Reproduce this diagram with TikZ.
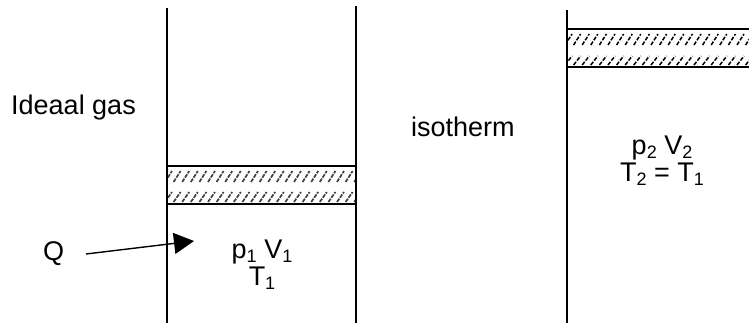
\documentclass[tikz,border=0pt]{standalone}
\usepackage{fontspec}
\setmainfont{Liberation Sans}
\usetikzlibrary{arrows.meta}
\newcommand{\lowidx}[1]{\smash{\raisebox{-4pt}{\fontsize{18}{18}\selectfont #1}}}
\tikzset{
  wall/.style={draw=black,line width=1.4pt},
  lbl/.style={font=\fontsize{27}{27}\selectfont,inner sep=0pt,align=center,text=black},
  hatchline/.style={draw=black!75,line width=1.7pt,dash pattern=on 4pt off 1.2pt},
  hatchdark/.style={draw=black,line width=1.5pt,dash pattern=on 4pt off 1.6pt},
  heatarrow/.style={draw=black,line width=1.4pt,-{Triangle[length=20pt,width=21pt]}}
}
\begin{document}
\begin{tikzpicture}[x=1pt,y=-1pt]
\useasboundingbox (0,0) rectangle (749,324);
% left cylinder
\draw[wall] (167,8) -- (167,323);
\draw[wall] (356,6) -- (356,323);
\draw[wall] (167,166) -- (356,166);
\draw[wall] (167,204) -- (356,204);
\begin{scope}
\clip (168,170) rectangle (355,203);
\foreach \i in {0,...,22}{
  \draw[hatchline] ({165+8.6*\i},182) -- ({172+8.6*\i},171);
  \draw[hatchline] ({165+8.6*\i},202) -- ({172+8.6*\i},192);
}
\end{scope}
% right cylinder
\draw[wall] (567,10) -- (567,323);
\draw[wall] (567,29) -- (749,29);
\draw[wall] (567,67) -- (749,67);
\begin{scope}
\clip (568,31) rectangle (749,66);
\foreach \i in {0,...,22}{
  \draw[hatchdark] ({565+8.6*\i},45) -- ({572+8.6*\i},34);
  \draw[hatchdark] ({565+8.6*\i},65) -- ({572+8.6*\i},56);
}
\end{scope}
% labels
\node[lbl,anchor=west] (gas) at (11,108) {Ideaal gas};
\node[lbl,anchor=west] (iso) at (411,127) {isotherm};
\node[lbl,anchor=west] (q) at (43,254) {Q};
\node[lbl] (s1) at (262,263) {p\lowidx{1} V\lowidx{1}\\T\lowidx{1}};
\node[lbl] (s2) at (662,159) {p\lowidx{2} V\lowidx{2}\\T\lowidx{2} = T\lowidx{1}};
\coordinate (qs) at (86,254);
\coordinate (qe) at (194,241);
\draw[heatarrow] (qs) -- (qe);
\end{tikzpicture}
\end{document}
